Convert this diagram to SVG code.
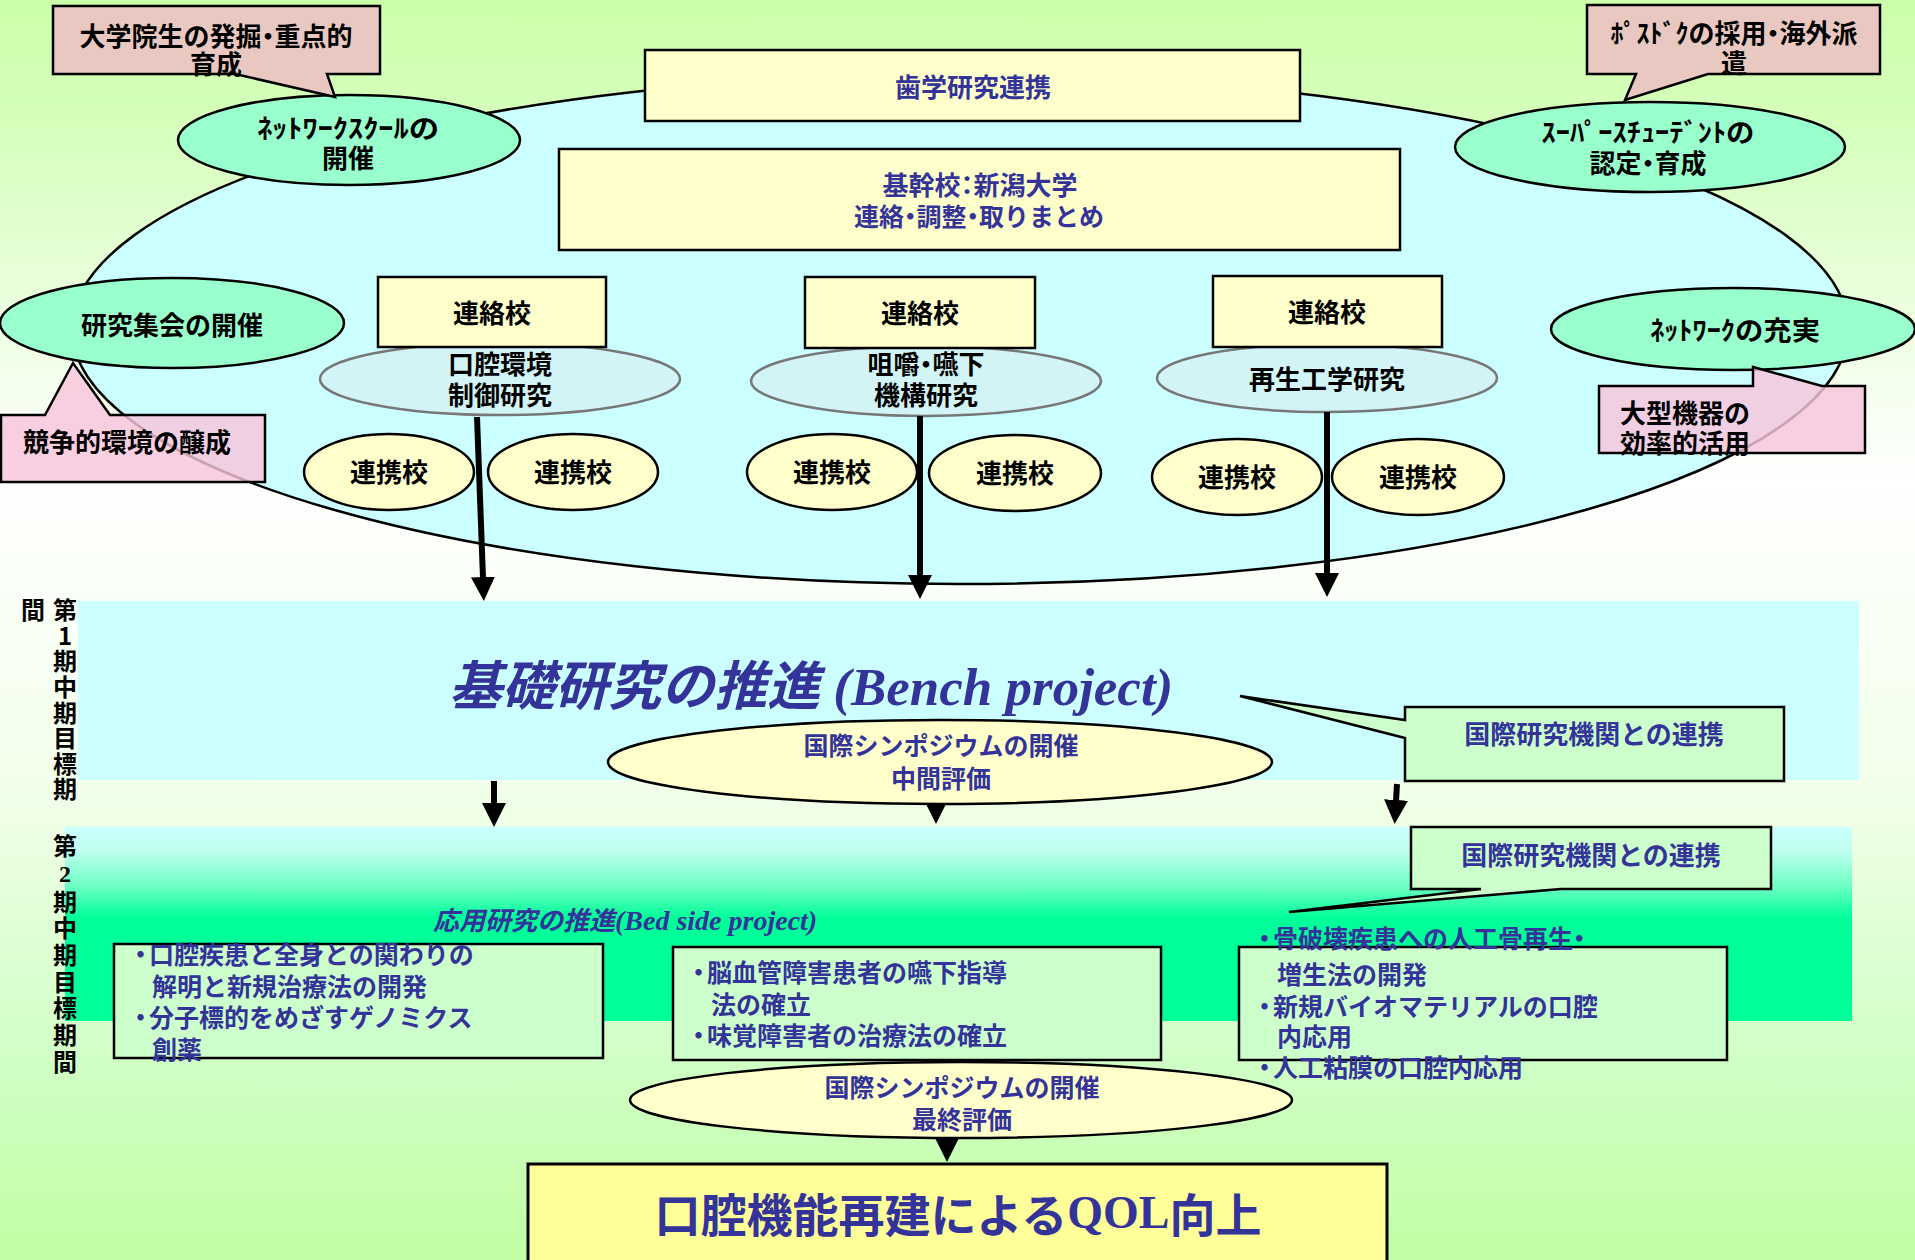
<svg xmlns="http://www.w3.org/2000/svg" width="1915" height="1260" viewBox="0 0 1915 1260">
<defs>
<linearGradient id="bg" x1="0" y1="0" x2="0" y2="1">
<stop offset="0" stop-color="#CCFFAA"/>
<stop offset="0.1" stop-color="#D6FFBC"/>
<stop offset="0.38" stop-color="#FFFFFF"/>
<stop offset="0.62" stop-color="#F2FFEA"/>
<stop offset="0.85" stop-color="#CFFFC4"/>
<stop offset="1" stop-color="#C0FFA4"/>
</linearGradient>
<linearGradient id="band2" x1="0" y1="0" x2="0" y2="1">
<stop offset="0" stop-color="#CCFFFF"/>
<stop offset="0.12" stop-color="#C0FFF0"/>
<stop offset="0.3" stop-color="#70FFC4"/>
<stop offset="0.47" stop-color="#00FF99"/>
<stop offset="1" stop-color="#00FF99"/>
</linearGradient>
<marker id="ah" viewBox="0 0 24 24" markerWidth="24" markerHeight="24" markerUnits="userSpaceOnUse" refX="1" refY="12" orient="auto">
<path d="M0,0 L24,12 L0,24 Z" fill="#000"/>
</marker>
<style>
text { font-family: "Noto Sans CJK JP", "Noto Sans CJK SC", sans-serif; font-weight: 700; }
.c { text-anchor: middle; dominant-baseline: central; transform: translateY(-2px); }
.l { dominant-baseline: central; transform: translateY(-2px); }
.v { writing-mode: vertical-rl; text-orientation: upright; }
.b { fill: #333399; }
.k { fill: #000000; }
.p { font-feature-settings: "palt"; }
.ser { font-family: "Liberation Serif", serif; }
.yb { fill: #FFFFCC; stroke: #000; stroke-width: 2.5; }
.gb { fill: #CCFFCC; stroke: #000; stroke-width: 2.5; }
.mint { fill: #99FFCC; stroke: #000; stroke-width: 2.5; }
.res { fill: #D2F4F6; stroke: #777; stroke-width: 2.5; }
.brown { fill: #E8C8C0; stroke: #000; stroke-width: 2.5; }
.pink { fill: #F8C4DC; fill-opacity: 0.82; stroke: #000; stroke-width: 2.5; }
</style>
</defs>

<rect x="0" y="0" width="1915" height="1260" fill="url(#bg)"/>

<g id="network-ellipse">
<ellipse cx="960" cy="329" rx="888" ry="255" fill="#CCFFFF" stroke="#000" stroke-width="2.5"/>
</g>

<g id="shigaku">
<rect class="yb" x="645" y="50" width="655" height="71"/>
<text class="c b" x="973" y="87" font-size="26">歯学研究連携</text>
</g>

<g id="kikan">
<rect class="yb" x="559" y="149" width="841" height="101"/>
<text class="c b"><tspan x="980" y="185" font-size="26">基幹校<tspan class="p">：</tspan>新潟大学</tspan><tspan x="979" y="217" font-size="25">連絡<tspan class="p">・</tspan>調整<tspan class="p">・</tspan>取りまとめ</tspan></text>
</g>

<g id="res1">
<ellipse class="res" cx="500" cy="379" rx="180" ry="36"/>
<rect class="yb" x="378" y="277" width="228" height="70"/>
<text class="c k" x="492" y="313" font-size="26">連絡校</text>
<text class="c k" font-size="26"><tspan x="500" y="364">口腔環境</tspan><tspan x="500" y="395">制御研究</tspan></text>
</g>
<g id="res2">
<ellipse class="res" cx="926" cy="381" rx="175" ry="35"/>
<rect class="yb" x="805" y="277" width="230" height="71"/>
<text class="c k" x="920" y="313" font-size="26">連絡校</text>
<text class="c k" font-size="26"><tspan x="926" y="364">咀嚼<tspan class="p">・</tspan>嚥下</tspan><tspan x="926" y="395">機構研究</tspan></text>
</g>
<g id="res3">
<ellipse class="res" cx="1327" cy="378" rx="170" ry="34"/>
<rect class="yb" x="1213" y="276" width="229" height="71"/>
<text class="c k" x="1327" y="312" font-size="26">連絡校</text>
<text class="c k" x="1327" y="379" font-size="26">再生工学研究</text>
</g>

<g id="renkei1"><ellipse class="yb" cx="389" cy="472" rx="85" ry="38"/><text class="c k" x="389" y="472" font-size="26">連携校</text></g>
<g id="renkei2"><ellipse class="yb" cx="573" cy="472" rx="85" ry="38"/><text class="c k" x="573" y="472" font-size="26">連携校</text></g>
<g id="renkei3"><ellipse class="yb" cx="832" cy="472" rx="85" ry="38"/><text class="c k" x="832" y="472" font-size="26">連携校</text></g>
<g id="renkei4"><ellipse class="yb" cx="1015" cy="473" rx="86" ry="38"/><text class="c k" x="1015" y="473" font-size="26">連携校</text></g>
<g id="renkei5"><ellipse class="yb" cx="1237" cy="477" rx="85" ry="38"/><text class="c k" x="1237" y="477" font-size="26">連携校</text></g>
<g id="renkei6"><ellipse class="yb" cx="1418" cy="477" rx="86" ry="38"/><text class="c k" x="1418" y="477" font-size="26">連携校</text></g>

<g id="netschool">
<ellipse class="mint" cx="349" cy="140" rx="171" ry="45"/>
<text class="c k" font-size="26"><tspan x="348" y="128" textLength="182" lengthAdjust="spacingAndGlyphs">ﾈｯﾄﾜｰｸｽｸｰﾙの</tspan><tspan x="348" y="158">開催</tspan></text>
</g>
<g id="kenkyushukai">
<ellipse class="mint" cx="172" cy="323" rx="172" ry="45"/>
<text class="c k" x="172" y="325" font-size="26">研究集会の開催</text>
</g>
<g id="superstudent">
<ellipse class="mint" cx="1650" cy="147" rx="195" ry="45"/>
<text class="c k" font-size="26"><tspan x="1648" y="132" textLength="213" lengthAdjust="spacingAndGlyphs">ｽｰﾊﾟｰｽﾁｭｰﾃﾞﾝﾄの</tspan><tspan x="1648" y="163">認定<tspan class="p">・</tspan>育成</tspan></text>
</g>
<g id="network-jujitsu">
<ellipse class="mint" cx="1733" cy="329" rx="182" ry="41"/>
<text class="c k" x="1735" y="330" font-size="26" textLength="170" lengthAdjust="spacingAndGlyphs">ﾈｯﾄﾜｰｸの充実</text>
</g>

<g id="callout-daigakuin">
<path class="brown" d="M53,6 H380 V74 H327 L335,97 L235,74 H53 Z"/>
<text class="c k" font-size="26"><tspan x="216" y="36">大学院生の発掘<tspan class="p">・</tspan>重点的</tspan><tspan x="216" y="64">育成</tspan></text>
</g>
<g id="callout-postdoc">
<path class="brown" d="M1587,5 H1880 V74 H1708 L1625,100 L1636,74 H1587 Z"/>
<text class="c k" font-size="26"><tspan x="1734" y="33">ﾎﾟｽﾄﾞｸの採用<tspan class="p">・</tspan>海外派</tspan><tspan x="1734" y="63">遣</tspan></text>
</g>
<g id="callout-kyoso">
<path class="pink" d="M1,415 H45 L73,363 L110,415 H265 V482 H1 Z"/>
<text class="c k" x="127" y="442" font-size="26">競争的環境の醸成</text>
</g>
<g id="callout-ogata">
<path class="pink" d="M1599,386 H1753 V367 L1822,386 H1865 V453 H1599 Z"/>
<text class="l k" font-size="26"><tspan x="1620" y="413">大型機器の</tspan><tspan x="1620" y="443">効率的活用</tspan></text>
</g>

<g id="band1">
<rect x="78" y="601" width="1781" height="179" fill="#CCFFFF"/>
<text class="b" x="449" y="705" font-size="53" font-style="italic">基礎研究の推進<tspan class="ser" font-size="53"> (Bench project)</tspan></text>
</g>
<g id="band2">
<rect x="65" y="827" width="1787" height="194" fill="url(#band2)"/>
<text class="b" x="433" y="930" font-size="26" font-style="italic">応用研究の推進<tspan class="ser" font-size="28">(Bed side project)</tspan></text>
</g>

<g id="period1">
<text class="v k" x="65" y="598" font-size="24" letter-spacing="1.6">第1期中期目標期</text>
<text class="v k" x="33" y="598" font-size="24">間</text>
</g>
<g id="period2">
<text class="v k" x="65" y="834" font-size="24" letter-spacing="2.7">第<tspan class="ser">2</tspan>期中期目標期間</text>
</g>

<g id="connectors" stroke="#000" stroke-width="6" fill="none">
<line x1="477" y1="417" x2="483" y2="578" marker-end="url(#ah)"/>
<line x1="920" y1="416" x2="920" y2="576" marker-end="url(#ah)"/>
<line x1="1327" y1="412" x2="1327" y2="574" marker-end="url(#ah)"/>
<line x1="494" y1="781" x2="494" y2="804" marker-end="url(#ah)"/>
<line x1="936" y1="780" x2="936" y2="801" marker-end="url(#ah)"/>
<line x1="1397" y1="784" x2="1396" y2="801" marker-end="url(#ah)"/>
<line x1="947" y1="1115" x2="947" y2="1139" marker-end="url(#ah)"/>
</g>

<g id="kokusai1">
<path class="gb" d="M1405,707 H1784 V781 H1405 V738 L1240,696 L1405,720 Z"/>
<text class="c b" x="1594" y="734" font-size="26">国際研究機関との連携</text>
</g>
<g id="kokusai2">
<path class="gb" d="M1411,827 H1771 V889 H1561 L1289,912 L1481,889 H1411 Z"/>
<text class="c b" x="1591" y="855" font-size="26">国際研究機関との連携</text>
</g>

<g id="symposium1">
<ellipse class="yb" cx="940" cy="762" rx="332" ry="42"/>
<text class="c b" font-size="25"><tspan x="941" y="746">国際シンポジウムの開催</tspan><tspan x="941" y="779">中間評価</tspan></text>
</g>

<g id="box-left">
<rect class="gb" x="114" y="944" width="489" height="114"/>
<text class="l b" font-size="25"><tspan x="128" y="955">・</tspan><tspan x="149" y="955">口腔疾患と全身との関わりの</tspan><tspan x="152" y="987">解明と新規治療法の開発</tspan><tspan x="128" y="1018">・</tspan><tspan x="149" y="1018">分子標的をめざすゲノミクス</tspan><tspan x="152" y="1050">創薬</tspan></text>
</g>
<g id="box-middle">
<rect class="gb" x="673" y="947" width="488" height="113"/>
<text class="l b" font-size="25"><tspan x="686" y="973">・</tspan><tspan x="707" y="973">脳血管障害患者の嚥下指導</tspan><tspan x="711" y="1005">法の確立</tspan><tspan x="686" y="1036">・</tspan><tspan x="707" y="1036">味覚障害者の治療法の確立</tspan></text>
</g>
<g id="box-right">
<rect class="gb" x="1239" y="947" width="488" height="113"/>
<text class="l b" font-size="25"><tspan x="1252" y="939">・</tspan><tspan x="1273" y="939">骨破壊疾患への人工骨再生<tspan class="p">・</tspan></tspan><tspan x="1277" y="975">増生法の開発</tspan><tspan x="1252" y="1007">・</tspan><tspan x="1273" y="1007">新規バイオマテリアルの口腔</tspan><tspan x="1277" y="1037">内応用</tspan><tspan x="1252" y="1068">・</tspan><tspan x="1273" y="1068">人工粘膜の口腔内応用</tspan></text>
</g>

<g id="symposium2">
<ellipse class="yb" cx="961" cy="1100" rx="331" ry="38" stroke-width="3"/>
<text class="c b" font-size="25"><tspan x="962" y="1088">国際シンポジウムの開催</tspan><tspan x="962" y="1120">最終評価</tspan></text>
</g>

<g id="goal">
<rect x="528" y="1164" width="859" height="110" fill="#FFFF99" stroke="#000" stroke-width="3"/>
<text class="c b" x="958" y="1214" font-size="46">口腔機能再建による<tspan class="ser">QOL</tspan>向上</text>
</g>
</svg>
